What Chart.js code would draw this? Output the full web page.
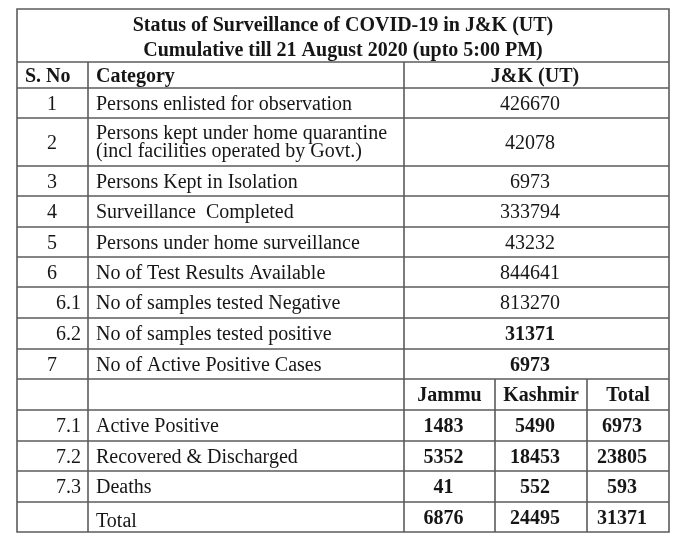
<!DOCTYPE html>
<html>
<head>
<meta charset="utf-8">
<script src="https://cdn.jsdelivr.net/npm/chart.js@4.4.0/dist/chart.umd.min.js"></script>
<style>
  html, body { margin: 0; padding: 0; background: #fff; }
  #wrap { width: 693px; height: 553px; }
</style>
</head>
<body>
<div id="wrap"><canvas id="status-table" width="693" height="553"></canvas></div>
<script>
// table data
const titleLines = [
  'Status of Surveillance of COVID-19 in J&K (UT)',
  'Cumulative till 21 August 2020 (upto 5:00 PM)'
];
const headers = ['S. No', 'Category', 'J&K (UT)'];
const serials = ['1', '2', '3', '4', '5', '6', '6.1', '6.2', '7'];
const categories = [
  'Persons enlisted for observation',
  ['Persons kept under home quarantine', '(incl facilities operated by Govt.)'],
  'Persons Kept in Isolation',
  'Surveillance  Completed',
  'Persons under home surveillance',
  'No of Test Results Available',
  'No of samples tested Negative',
  'No of samples tested positive',
  'No of Active Positive Cases'
];
const values = [426670, 42078, 6973, 333794, 43232, 844641, 813270, 31371, 6973];
const boldValues = [false, false, false, false, false, false, false, true, true];

const districts = ['Jammu', 'Kashmir', 'Total'];
const subSerials = ['7.1', '7.2', '7.3', ''];
const subCategories = ['Active Positive', 'Recovered & Discharged', 'Deaths', 'Total'];
const jammu = [1483, 5352, 41, 6876];
const kashmir = [5490, 18453, 552, 24495];
const total = [6973, 23805, 593, 31371];

// layout (table units, origin at top-left corner of the table)
const colEdges = [0, 71, 387, 478, 570, 652];
const rowEdges = [0, 53, 79, 109, 157, 187, 218, 248, 278, 309, 340, 370, 401, 432, 462, 493, 523];
const titleBaselines = [22, 47];

const SERIF = '"Liberation Serif", "Times New Roman", serif';
const INK = '#161616';
const RULE = '#5c5c5c';

const tablePlugin = {
  id: 'tablePlugin',
  afterDraw(chart) {
    const ctx = chart.ctx;
    const xs = chart.scales.x;
    const ys = chart.scales.y;
    const px = v => xs.getPixelForValue(v);
    const py = v => ys.getPixelForValue(v);
    const last = rowEdges.length - 1;

    ctx.save();
    // grid lines
    ctx.strokeStyle = RULE;
    ctx.lineWidth = 1.6;
    ctx.beginPath();
    ctx.rect(px(0), py(0), px(652) - px(0), py(rowEdges[last]) - py(0));
    for (let i = 1; i < last; i++) {
      ctx.moveTo(px(0), py(rowEdges[i]));
      ctx.lineTo(px(652), py(rowEdges[i]));
    }
    [1, 2].forEach(c => {
      ctx.moveTo(px(colEdges[c]), py(rowEdges[1]));
      ctx.lineTo(px(colEdges[c]), py(rowEdges[last]));
    });
    [3, 4].forEach(c => {
      ctx.moveTo(px(colEdges[c]), py(rowEdges[11]));
      ctx.lineTo(px(colEdges[c]), py(rowEdges[last]));
    });
    ctx.stroke();

    ctx.fillStyle = INK;
    ctx.textBaseline = 'alphabetic';
    const put = (text, x, y, align, bold) => {
      ctx.font = (bold ? 'bold ' : '') + '20px ' + SERIF;
      ctx.textAlign = align;
      ctx.fillText(String(text), px(x), py(y));
    };
    const base = r => (rowEdges[r] + rowEdges[r + 1]) / 2 + 6.5;

    // title
    ctx.font = 'bold 20px ' + SERIF;
    ctx.textAlign = 'center';
    titleLines.forEach((t, i) => ctx.fillText(t, px(326), py(titleBaselines[i])));

    // header row
    put(headers[0], 8, base(1), 'left', true);
    put(headers[1], 79, base(1), 'left', true);
    put(headers[2], 518, base(1), 'center', true);

    // main rows
    serials.forEach((s, i) => {
      const r = i + 2;
      const b = base(r);
      if (s.indexOf('.') >= 0) put(s, 64, b, 'right', false);
      else put(s, 35, b, 'center', false);
      const cat = categories[i];
      if (Array.isArray(cat)) {
        put(cat[0], 79, b - 10, 'left', false);
        put(cat[1], 79, b + 8, 'left', false);
      } else {
        put(cat, 79, b, 'left', false);
      }
      put(values[i], 513, b, 'center', boldValues[i]);
    });

    // district sub header
    districts.forEach((d, j) => {
      put(d, (colEdges[j + 2] + colEdges[j + 3]) / 2, base(11), 'center', true);
    });

    // district rows
    const cols = [jammu, kashmir, total];
    subCategories.forEach((c, i) => {
      const r = i + 12;
      const b = base(r);
      if (subSerials[i]) put(subSerials[i], 64, b, 'right', false);
      put(c, 79, b + (i === 3 ? 3 : 0), 'left', false);
      cols.forEach((arr, j) => {
        put(arr[i], (colEdges[j + 2] + colEdges[j + 3]) / 2 - 6, b, 'center', true);
      });
    });
    ctx.restore();
  }
};

new Chart(document.getElementById('status-table'), {
  type: 'scatter',
  data: { datasets: [{ data: [] }] },
  options: {
    responsive: false,
    animation: false,
    layout: { padding: { left: 17, top: 9, right: 24, bottom: 21 } },
    plugins: { legend: { display: false }, tooltip: { enabled: false } },
    scales: {
      x: { type: 'linear', min: 0, max: 652, display: false },
      y: { type: 'linear', min: 0, max: 523, reverse: true, display: false }
    }
  },
  plugins: [tablePlugin]
});
</script>
</body>
</html>
